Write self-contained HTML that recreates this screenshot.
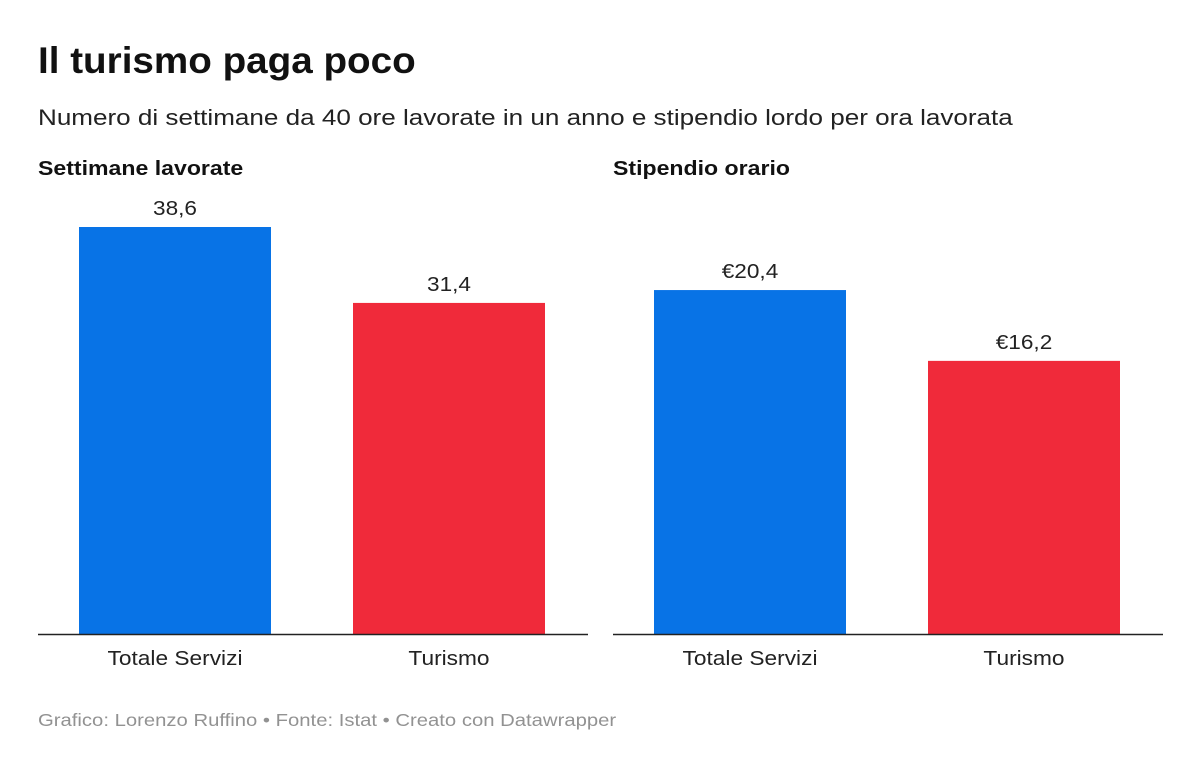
<!DOCTYPE html>
<html><head><meta charset="utf-8">
<style>
body{margin:0;width:1200px;height:774px;background:#fff;font-family:"Liberation Sans",Arial,sans-serif;overflow:hidden;position:relative}
.t{position:absolute;white-space:nowrap;transform-origin:left top}
</style></head><body>
<div class="t" style="left:38px;top:40px;font-size:37px;font-weight:bold;color:#111;transform:scaleX(1.044)">Il turismo paga poco</div>
<div class="t" style="left:38px;top:105px;font-size:22.5px;color:#222;transform:scaleX(1.158)">Numero di settimane da 40 ore lavorate in un anno e stipendio lordo per ora lavorata</div>
<svg id="c" width="1200" height="774" style="position:absolute;left:0;top:0"></svg>
<div class="t" style="left:38px;top:710px;font-size:17.5px;color:#929292;transform:scaleX(1.158)">Grafico: Lorenzo Ruffino • Fonte: Istat • Creato con Datawrapper</div>
<script>
const categories=["Totale Servizi","Turismo"];
const weeksValues=[38.6,31.4];
const wageValues=[20.4,16.2];
const weeksLabels=["38,6","31,4"];
const wageLabels=["€20,4","€16,2"];
const colors=["#0873e6","#f02a3a"];
const svg=document.getElementById('c');
const NS="http://www.w3.org/2000/svg";
function mk(tag,attrs,txt){const e=document.createElementNS(NS,tag);for(const k in attrs)e.setAttribute(k,attrs[k]);if(txt!=null)e.textContent=txt;svg.appendChild(e);return e;}
function widen(e,k){const L=e.getComputedTextLength();e.setAttribute('textLength',L*k);e.setAttribute('lengthAdjust','spacingAndGlyphs');}
function panel(x0,title,vals,labels,maxV,key){
  const base=634,top=227,w=550;
  const y=v=>base-(v/maxV)*(base-top);
  const t=mk('text',{x:x0,y:175,'font-size':20.5,'font-weight':'bold',fill:'#111'},title);
  
  
  widen(t,1.126);
  vals.forEach((v,i)=>{
    const bx=x0+41+i*274,bw=192;
    const r=mk('rect',{x:bx,y:y(v),width:bw,height:base-y(v),fill:colors[i]});
    
    
    const l=mk('text',{x:bx+bw/2,y:y(v)-12,'font-size':20,'text-anchor':'middle',fill:'#222'},labels[i]);
    
    
    widen(l,1.13);
    const c=mk('text',{x:bx+bw/2,y:665,'font-size':20,'text-anchor':'middle',fill:'#222'},categories[i]);
    
    
    widen(c,1.135);
  });
  const ax=mk('line',{x1:x0,x2:x0+w,y1:base+0.5,y2:base+0.5,stroke:'#222','stroke-width':1.5});
  
  
}
panel(38,"Settimane lavorate",weeksValues,weeksLabels,38.6,'weeks');
panel(613,"Stipendio orario",wageValues,wageLabels,24.14,'wage');
</script>
</body></html>
